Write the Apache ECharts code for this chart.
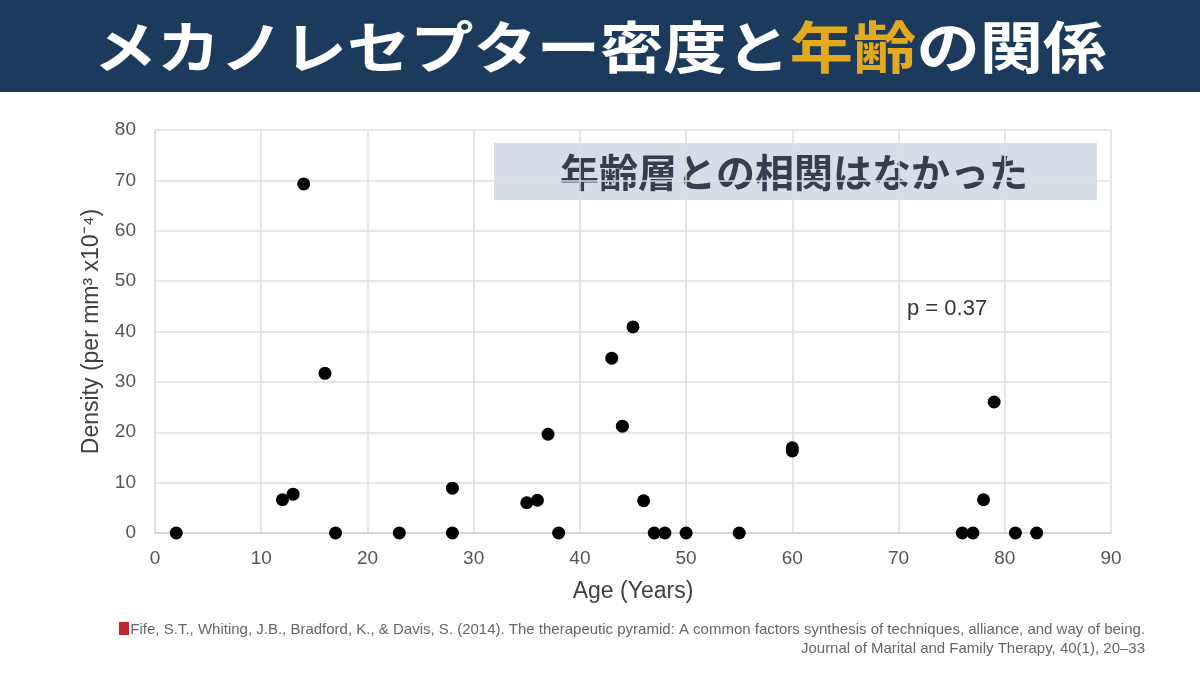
<!DOCTYPE html>
<html>
<head>
<meta charset="utf-8">
<script src="https://cdn.jsdelivr.net/npm/echarts@6/dist/echarts.min.js"></script>
<style>
  html, body { margin: 0; padding: 0; background: #fff; }
  #chart { width: 1200px; height: 675px; }
</style>
</head>
<body>
<div id="chart"></div>
<script>
// ages (years) and mechanoreceptor density
var ages = [2, 12, 13, 14, 16, 17, 23, 28, 28, 35, 36, 37, 38, 43, 44, 45, 46, 47, 48, 50, 55, 60, 60, 76, 77, 78, 79, 81, 83];
var density = [0, 6.6, 7.7, 69.3, 31.7, 0, 0, 8.9, 0, 6.0, 6.5, 19.6, 0, 34.7, 21.2, 40.9, 6.4, 0, 0, 0, 0, 16.9, 16.3, 0, 0, 6.6, 26.0, 0, 0];
var xTicks = [0, 10, 20, 30, 40, 50, 60, 70, 80, 90];
var yTicks = [0, 10, 20, 30, 40, 50, 60, 70, 80];

var points = ages.map(function (a, i) { return [a, density[i]]; });

var chart = echarts.init(document.getElementById('chart'));
var option = {
    backgroundColor: '#ffffff',
    animation: false,
    grid: { left: 155, right: 89, top: 130, bottom: 142 },
    xAxis: {
        type: 'value',
        min: xTicks[0],
        max: xTicks[xTicks.length - 1],
        interval: 10,
        name: 'Age (Years)',
        nameLocation: 'middle',
        nameGap: 47,
        nameTextStyle: { fontFamily: 'Liberation Sans', fontSize: 23, color: '#404040' },
        axisLine: { lineStyle: { color: '#cfcfcf', width: 1.5 } },
        axisTick: { show: false },
        axisLabel: { fontFamily: 'Liberation Sans', fontSize: 19, color: '#555', margin: 16 },
        splitLine: { lineStyle: { color: '#dedede', width: 1.5 } }
    },
    yAxis: {
        type: 'value',
        min: yTicks[0],
        max: yTicks[yTicks.length - 1],
        interval: 10,
        name: 'Density (per mm\u00B3 x10\u207B\u2074)',
        nameLocation: 'middle',
        nameGap: 52,
        nameTextStyle: { fontFamily: 'Liberation Sans', fontSize: 23, color: '#404040' },
        axisLine: { show: true, lineStyle: { color: '#dedede', width: 1.5 } },
        axisTick: { show: false },
        axisLabel: { fontFamily: 'Liberation Sans', fontSize: 19, color: '#555', margin: 19 },
        splitLine: { lineStyle: { color: '#dedede', width: 1.5 } }
    },
    series: [{
        type: 'scatter',
        data: points,
        symbolSize: 13,
        itemStyle: { color: '#000000', opacity: 1 }
    }],
    graphic: [
        { type: 'rect', left: 0, top: 0, shape: { width: 1200, height: 92 }, style: { fill: '#1b3a5c' } },
        {
            type: 'text', x: 600, y: 47, scaleX: 1.13,
            style: {
                text: '{w|メカノレセプター密度と}{g|年齢}{w|の関係}',
                align: 'center', verticalAlign: 'middle',
                rich: {
                    w: { fill: '#ffffff', fontSize: 56, fontWeight: 'bold', fontFamily: 'Noto Sans CJK JP' },
                    g: { fill: '#e3aa1e', fontSize: 56, fontWeight: 'bold', fontFamily: 'Noto Sans CJK JP' }
                }
            }
        },
        { type: 'rect', left: 494, top: 143, shape: { width: 603, height: 57 }, style: { fill: '#d6dde7' } },
        {
            type: 'text', x: 794, y: 172,
            style: {
                text: '年齢層との相関はなかった', align: 'center', verticalAlign: 'middle',
                fill: '#343e4e', fontSize: 39, fontWeight: 'bold', fontFamily: 'Noto Sans CJK JP'
            }
        },
        {
            type: 'text', x: 907, y: 309,
            style: {
                text: 'p = 0.37', verticalAlign: 'middle',
                fill: '#333', fontSize: 22, fontFamily: 'Liberation Sans'
            }
        },
        { type: 'rect', left: 119, top: 622, shape: { width: 10, height: 13 }, style: { fill: '#c0272d' } },
        {
            type: 'text', x: 1145, y: 630,
            style: {
                text: 'Fife, S.T., Whiting, J.B., Bradford, K., & Davis, S. (2014). The therapeutic pyramid: A common factors synthesis of techniques, alliance, and way of being.',
                align: 'right', verticalAlign: 'middle',
                fill: '#666', fontSize: 15, fontFamily: 'Liberation Sans'
            }
        },
        {
            type: 'text', x: 1145, y: 649,
            style: {
                text: 'Journal of Marital and Family Therapy, 40(1), 20\u201333',
                align: 'right', verticalAlign: 'middle',
                fill: '#666', fontSize: 15, fontFamily: 'Liberation Sans'
            }
        }
    ]
};
chart.setOption(option);
</script>
</body>
</html>
